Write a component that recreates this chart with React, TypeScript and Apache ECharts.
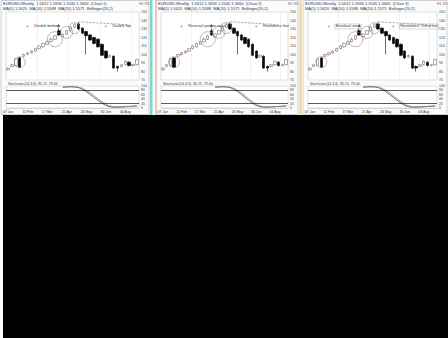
import React, { useEffect, useRef } from "react";
import * as echarts from "echarts";

const categories = [
  "07 Jan", "14 Jan", "21 Jan", "28 Jan", "04 Feb", "11 Feb", "18 Feb", "25 Feb", "03 Mar", "10 Mar",
  "17 Mar", "24 Mar", "31 Mar", "07 Apr", "14 Apr", "21 Apr", "28 Apr", "05 May", "12 May", "19 May",
  "26 May", "02 Jun", "09 Jun", "16 Jun", "23 Jun", "30 Jun", "07 Jul", "14 Jul", "21 Jul", "28 Jul",
  "04 Aug", "11 Aug", "18 Aug", "25 Aug",
];

// [open, close, low, high]
const candles = [
  [82, 84, 81, 85], [86, 88, 85, 89], [87, 95, 86, 96], [96, 85, 84, 97],
  [98, 100, 97, 101], [100, 102, 99, 103], [102, 104, 101, 105], [104, 107, 103, 108],
  [107, 110, 106, 111], [109, 113, 108, 114], [112, 115, 111, 116], [115, 118, 114, 120],
  [118, 122, 117, 123], [128, 123, 122, 131], [121, 124, 120, 125], [124, 128, 123, 129],
  [128, 132, 127, 133], [132, 135, 131, 137], [136, 130, 129, 138], [131, 125, 124, 132],
  [127, 122, 100, 128], [123, 117, 116, 124], [120, 113, 112, 121], [118, 109, 108, 119],
  [112, 99, 98, 113], [104, 96, 95, 105], [97, 99, 96, 100], [98, 84, 83, 99],
  [86, 84, 80, 87], [86, 88, 85, 89], [88, 92, 87, 93], [91, 87, 86, 92],
  [87, 88, 86, 89], [88, 94, 87, 95],
];

const stochK = [
  null, null, null, null, null, null, null, null, null, null, null, null, null, null,
  95, 96, 97, 96, 93, 85, 75, 62, 48, 35, 22, 12, 6, 4, 4, 5, 6, 7, 8, 10,
];
const stochD = [
  null, null, null, null, null, null, null, null, null, null, null, null, null, null,
  93, 95, 96, 96, 95, 90, 81, 70, 56, 42, 29, 18, 10, 6, 5, 5, 6, 7, 8, 9,
];

const levels = [80, 20];
const priceMin = 70;
const priceMax = 150;

const titles = [
  "EURUSD,Weekly  1.5612 1.5694 1.5540 1.5660  (Chart 1)",
  "EURUSD,Weekly  1.5612 1.5694 1.5540 1.5660  (Chart 2)",
  "EURUSD,Weekly  1.5612 1.5694 1.5540 1.5660  (Chart 3)",
];
const subtitles = [
  "MA(5) 1.5620  MA(10) 1.5588  MA(20) 1.5571  Bollinger(20,2)",
  "MA(5) 1.5620  MA(10) 1.5588  MA(20) 1.5571  Bollinger(20,2)",
  "MA(5) 1.5620  MA(10) 1.5588  MA(20) 1.5571  Bollinger(20,2)",
];
const leftNotes = ["Double bottom", "Reversal pattern zone", "Breakout zone"];
const rightNotes = ["Double top", "Resistance line", "Resistance / trend line"];
const indLegend = "Stochastic(14,3,3)  82.15  79.40";

const panels = [
  { x: 1, w: 148 },
  { x: 156, w: 142 },
  { x: 303, w: 144 },
];

export default function App() {
  const ref = useRef<HTMLDivElement>(null);
  useEffect(() => {
    if (!ref.current) return;
    const chart = echarts.init(ref.current, undefined, { renderer: "svg" });
    const W = 448;
    const grids: any[] = [];
    const xAxes: any[] = [];
    const yAxes: any[] = [];
    const series: any[] = [];
    const graphics: any[] = [];
    const font = "Arial, Liberation Sans, sans-serif";

    panels.forEach((p, k) => {
      const left = p.x + 5;
      const right = W - (p.x + p.w - 10);
      graphics.push({
        type: "rect",
        shape: { x: p.x, y: 0.5, width: p.w, height: 114 },
        style: { fill: "#fbfbfb", stroke: "#cfcfcf", lineWidth: 1 },
        z: -10,
      });
      graphics.push({
        type: "text",
        x: p.x + 2,
        y: 1.5,
        style: { text: titles[k], fontSize: 4, fill: "#223366", fontFamily: font },
      });
      graphics.push({
        type: "text",
        x: p.x + 2,
        y: 6.5,
        style: { text: subtitles[k], fontSize: 4, fill: "#333", fontFamily: font },
      });
      graphics.push({
        type: "text",
        x: p.x + p.w - 10,
        y: 1.5,
        style: { text: "H1 W1", fontSize: 3.5, fill: "#666", fontFamily: font },
      });
      graphics.push({
        type: "text",
        x: left + 2,
        y: 82,
        style: { text: indLegend, fontSize: 3.5, fill: "#444", fontFamily: font },
      });

      grids.push({
        left,
        right,
        top: 12,
        height: 68,
        show: true,
        backgroundColor: "#ffffff",
        borderColor: "#cccccc",
        borderWidth: 0.6,
      });
      grids.push({
        left,
        right,
        top: 86,
        height: 22,
        show: true,
        backgroundColor: "#ffffff",
        borderColor: "#cccccc",
        borderWidth: 0.6,
      });
      const gi = k * 2;
      xAxes.push({
        type: "category",
        gridIndex: gi,
        data: categories,
        boundaryGap: true,
        axisLine: { show: false },
        axisTick: { show: false },
        axisLabel: { show: false },
        splitLine: { show: true, interval: 7, lineStyle: { color: "#e6e6e6", width: 0.5 } },
      });
      xAxes.push({
        type: "category",
        gridIndex: gi + 1,
        data: categories,
        boundaryGap: true,
        axisLine: { show: true, lineStyle: { color: "#bbb", width: 0.5 } },
        axisTick: { show: false },
        axisLabel: { show: true, interval: 4, fontSize: 3.5, color: "#333", margin: 2, fontFamily: font },
        splitLine: { show: false },
      });
      yAxes.push({
        type: "value",
        gridIndex: gi,
        position: "right",
        min: priceMin,
        max: priceMax,
        interval: 10,
        axisLine: { show: false },
        axisTick: { show: false },
        axisLabel: { fontSize: 3.5, color: "#444", margin: 2, fontFamily: font },
        splitLine: { show: false },
      });
      yAxes.push({
        type: "value",
        gridIndex: gi + 1,
        position: "right",
        min: 0,
        max: 100,
        interval: 20,
        axisLine: { show: false },
        axisTick: { show: false },
        axisLabel: { fontSize: 3.5, color: "#444", margin: 2, fontFamily: font },
        splitLine: { show: false },
      });

      const circleSty = { color: "rgba(0,0,0,0)", borderColor: "#8a8a8a", borderWidth: 0.6 };
      series.push({
        type: "candlestick",
        xAxisIndex: gi,
        yAxisIndex: gi,
        data: candles,
        barWidth: "78%",
        itemStyle: {
          color: "#ffffff",
          color0: "#050505",
          borderColor: "#8a6a60",
          borderColor0: "#050505",
          borderWidth: 0.6,
        },
        markPoint: {
          symbol: "circle",
          itemStyle: circleSty,
          label: { show: false },
          data: [
            { coord: [3, 91], symbolSize: 11 },
            { coord: [12, 118], symbolSize: 15 },
            { coord: [15, 126], symbolSize: 12 },
            { coord: [17, 131], symbolSize: 11 },
            {
              coord: [13, 134],
              symbol: "triangle",
              symbolSize: 2.5,
              itemStyle: { color: "#333" },
            },
            {
              coord: [4.5, 133],
              symbol: "rect",
              symbolSize: [1, 1],
              itemStyle: { color: "rgba(0,0,0,0)" },
              label: {
                show: true,
                formatter: leftNotes[k],
                fontSize: 3.8,
                color: "#333",
                position: "right",
                fontFamily: font,
                borderColor: k === 2 ? "#999" : "transparent",
                borderWidth: k === 2 ? 0.4 : 0,
                padding: [0.5, 1],
              },
            },
            {
              coord: [k === 2 ? 22 : 25, 133],
              symbol: "rect",
              symbolSize: [1, 1],
              itemStyle: { color: "rgba(0,0,0,0)" },
              label: {
                show: true,
                formatter: rightNotes[k],
                fontSize: 3.8,
                color: "#333",
                position: "right",
                fontFamily: font,
                borderColor: k === 2 ? "#999" : "transparent",
                borderWidth: k === 2 ? 0.4 : 0,
                padding: [0.5, 1],
              },
            },
          ],
        },
        markLine: {
          symbol: "none",
          silent: true,
          label: { show: false },
          lineStyle: { color: "#777", width: 0.6, type: "dashed" },
          data: [[{ coord: [18, 138.5] }, { coord: [31, 135] }]],
        },
      });
      series.push({
        type: "line",
        xAxisIndex: gi + 1,
        yAxisIndex: gi + 1,
        data: stochK,
        showSymbol: false,
        lineStyle: { color: "#222", width: 0.7 },
        markLine: {
          symbol: "none",
          silent: true,
          label: { show: false },
          lineStyle: { color: "#111", width: 0.7, type: "solid" },
          data: levels.map((v) => ({ yAxis: v })),
        },
      });
      series.push({
        type: "line",
        xAxisIndex: gi + 1,
        yAxisIndex: gi + 1,
        data: stochD,
        showSymbol: false,
        lineStyle: { color: "#888", width: 0.7 },
      });
    });

    graphics.push({ type: "rect", shape: { x: 150, y: 0, width: 2.5, height: 115 }, style: { fill: "#7ad9c9" } });
    graphics.push({ type: "rect", shape: { x: 155.5, y: 0, width: 1, height: 115 }, style: { fill: "#f2a3a3" } });
    graphics.push({ type: "rect", shape: { x: 299.5, y: 0, width: 2, height: 115 }, style: { fill: "#f0cf8a" } });
    graphics.push({ type: "rect", shape: { x: 3, y: 115, width: 445, height: 223 }, style: { fill: "#000000" }, z: 100 });

    chart.setOption({
      animation: false,
      backgroundColor: "#ffffff",
      grid: grids,
      xAxis: xAxes,
      yAxis: yAxes,
      series,
      graphic: graphics,
    });
    return () => chart.dispose();
  }, []);
  return (
    <div
      ref={ref}
      style={{ position: "fixed", left: 0, top: 0, width: 448, height: 338 }}
    />
  );
}
